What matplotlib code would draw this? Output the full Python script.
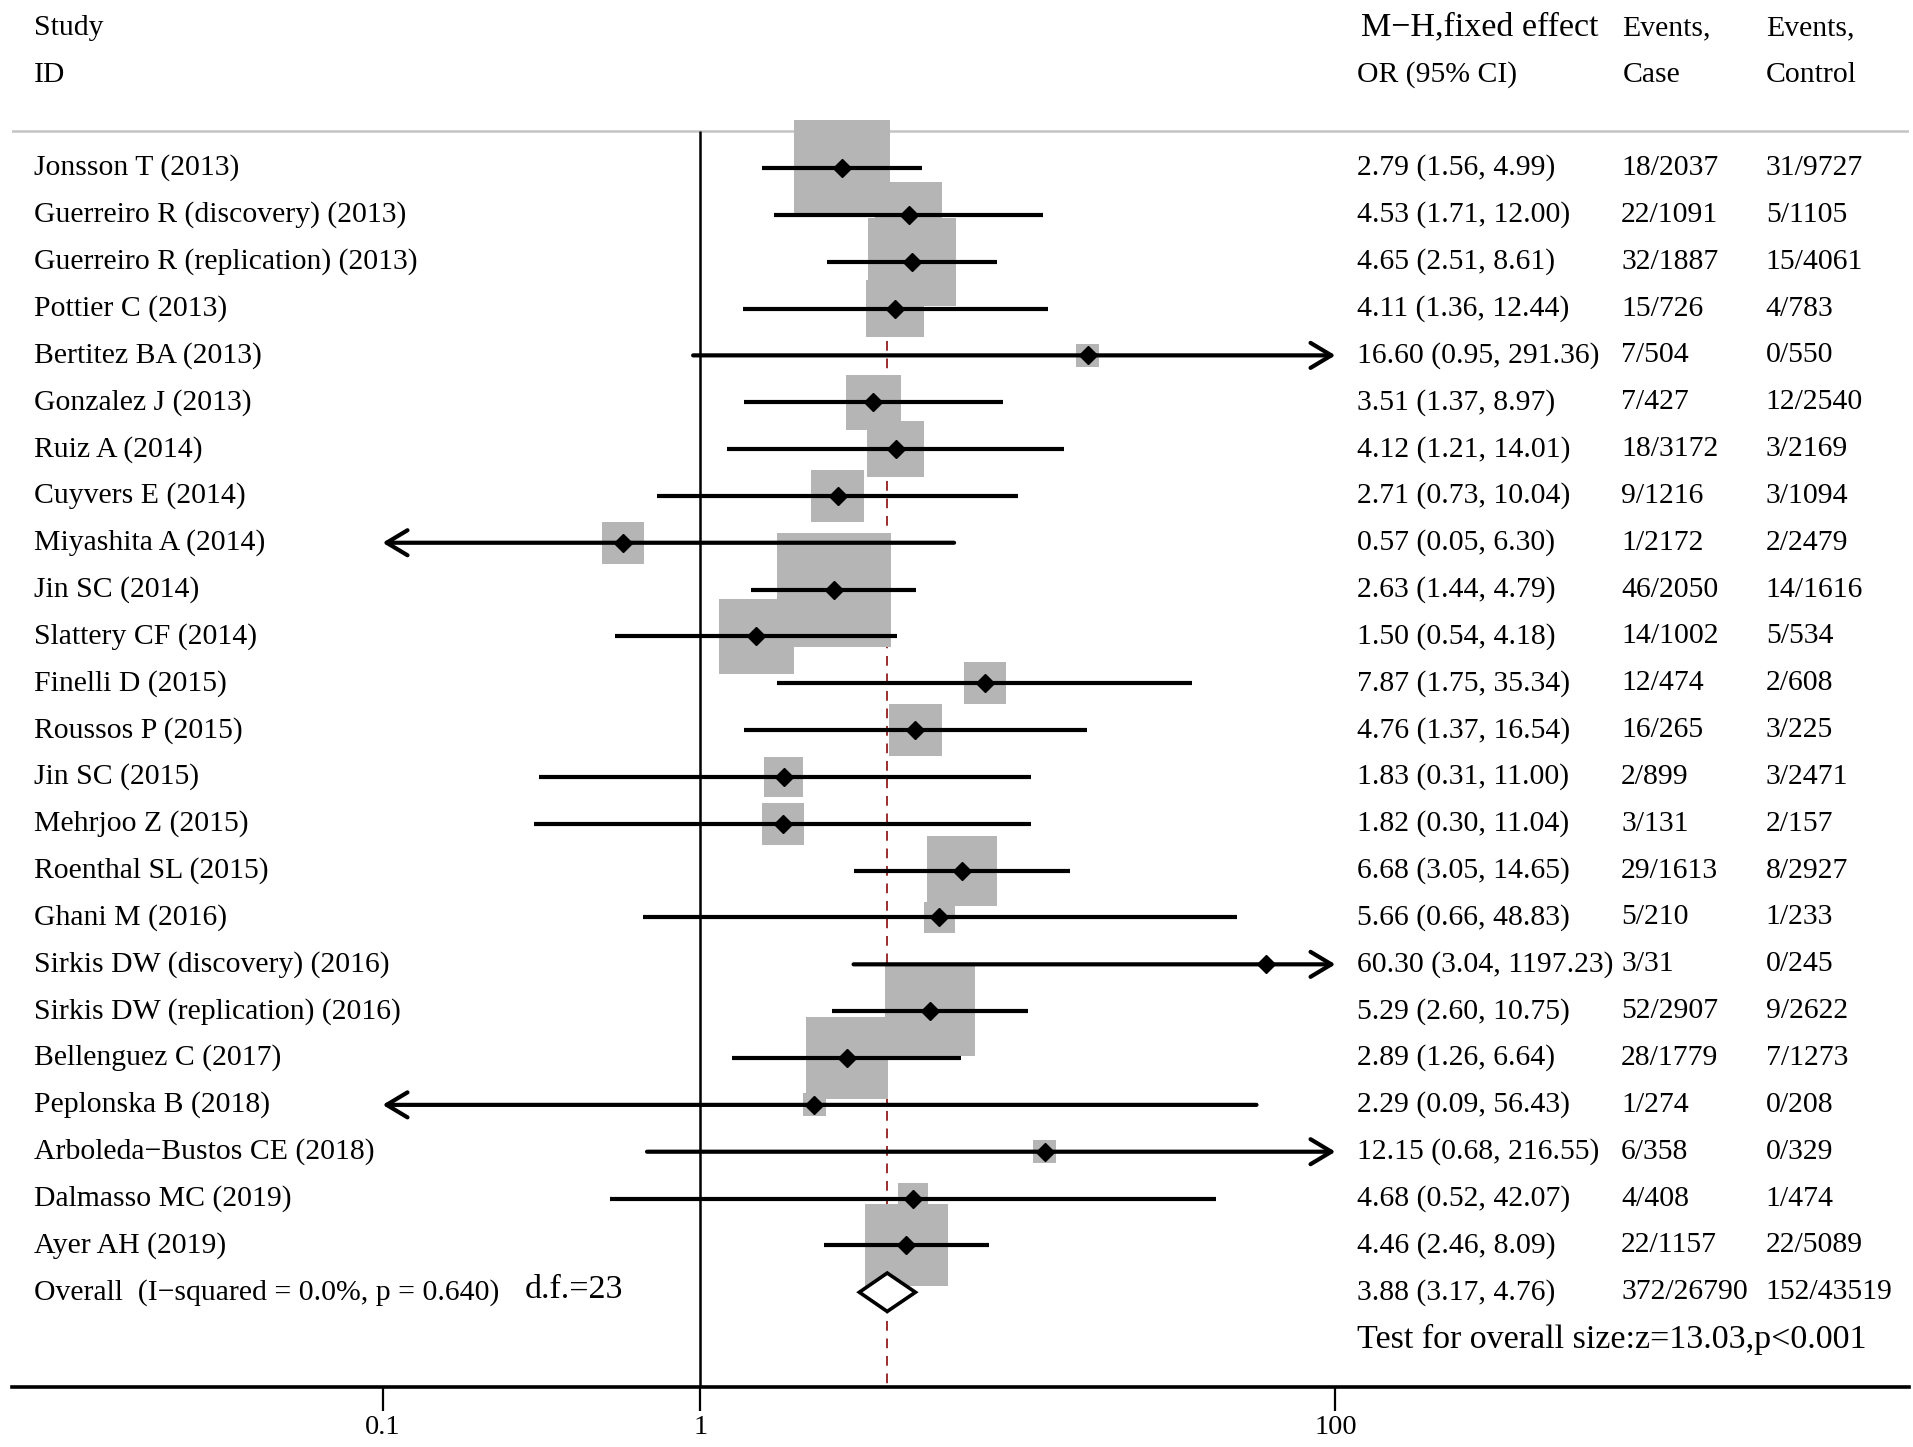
import matplotlib
matplotlib.use('Agg')
import matplotlib.pyplot as plt
from matplotlib.patches import Polygon

plt.rcParams['font.family'] = ['Liberation Serif', 'DejaVu Serif']

studies = ['Jonsson T (2013)', 'Guerreiro R (discovery) (2013)', 'Guerreiro R (replication) (2013)',
           'Pottier C (2013)', 'Bertitez BA (2013)', 'Gonzalez J (2013)', 'Ruiz A (2014)',
           'Cuyvers E (2014)', 'Miyashita A (2014)', 'Jin SC (2014)', 'Slattery CF (2014)',
           'Finelli D (2015)', 'Roussos P (2015)', 'Jin SC (2015)', 'Mehrjoo Z (2015)',
           'Roenthal SL (2015)', 'Ghani M (2016)', 'Sirkis DW (discovery) (2016)',
           'Sirkis DW (replication) (2016)', 'Bellenguez C (2017)', 'Peplonska B (2018)',
           'Arboleda\u2212Bustos CE (2018)', 'Dalmasso MC (2019)', 'Ayer AH (2019)']
odds = [2.79, 4.53, 4.65, 4.11, 16.60, 3.51, 4.12, 2.71, 0.57, 2.63, 1.50, 7.87,
        4.76, 1.83, 1.82, 6.68, 5.66, 60.30, 5.29, 2.89, 2.29, 12.15, 4.68, 4.46]
ci_low = [1.56, 1.71, 2.51, 1.36, 0.95, 1.37, 1.21, 0.73, 0.05, 1.44, 0.54, 1.75,
          1.37, 0.31, 0.30, 3.05, 0.66, 3.04, 2.60, 1.26, 0.09, 0.68, 0.52, 2.46]
ci_high = [4.99, 12.00, 8.61, 12.44, 291.36, 8.97, 14.01, 10.04, 6.30, 4.79, 4.18, 35.34,
           16.54, 11.00, 11.04, 14.65, 48.83, 1197.23, 10.75, 6.64, 56.43, 216.55, 42.07, 8.09]
# weights (%)
weights = [9.97, 4.78, 8.50, 3.62, 0.59, 3.32, 3.47, 3.03, 1.90, 14.18, 6.10, 1.90,
           3.03, 1.68, 1.90, 5.33, 1.02, 0.03, 8.74, 7.36, 0.59, 0.59, 1.02, 7.36]
events_case = ['18/2037', '22/1091', '32/1887', '15/726', '7/504', '7/427', '18/3172',
               '9/1216', '1/2172', '46/2050', '14/1002', '12/474', '16/265', '2/899',
               '3/131', '29/1613', '5/210', '3/31', '52/2907', '28/1779', '1/274',
               '6/358', '4/408', '22/1157']
events_ctrl = ['31/9727', '5/1105', '15/4061', '4/783', '0/550', '12/2540', '3/2169',
               '3/1094', '2/2479', '14/1616', '5/534', '2/608', '3/225', '3/2471',
               '2/157', '8/2927', '1/233', '0/245', '9/2622', '7/1273', '0/208',
               '0/329', '1/474', '22/5089']
overall = [3.88, 3.17, 4.76]
overall_case = '372/26790'
overall_ctrl = '152/43519'
xticks = [0.1, 1, 100]
xticklabels = ['0.1', '1', '100']

# layout: reference measured at 1560 x 1180
W, H = 1560.0, 1180.0
x_one, decade = 571.0, 259.0
row0, step = 137.0, 38.2


def disp_to_log(px):
    return 10 ** ((px - x_one) / decade)


def col(px):
    return (px - 10) / 1547.0


def row_of(py):
    return (py - row0) / step


fig = plt.figure(figsize=(19.13, 14.47), dpi=100)
ax = fig.add_axes([10 / W, 1 - 1131 / H, 1547 / W, 1131 / H])
ax.set_xscale('log')
ax.set_xlim(disp_to_log(10), disp_to_log(1557))
ax.set_ylim(row_of(1131), row_of(0))
for s in ['top', 'left', 'right']:
    ax.spines[s].set_visible(False)
ax.spines['bottom'].set_linewidth(2.6)
ax.set_yticks([])
ax.set_xticks(xticks)
ax.set_xticklabels(xticklabels)
ax.minorticks_off()
ax.tick_params(axis='x', direction='out', length=17, width=1.6, labelsize=20.5, pad=3)

n = len(studies)
rows = list(range(n))
y_overall = n
y_head = row_of(107)
y_bottom = row_of(1131)

ax.axhline(y_head, color='#c4c4c4', lw=1.8, zorder=1)
ax.vlines(1, y_head, y_bottom, color='black', lw=1.8, zorder=2.5)
ax.vlines(overall[0], y_head, y_bottom, color='#9b2d2d', lw=1.4,
          linestyles=(0, (5, 4)), zorder=1)

ax.scatter(odds, rows, s=[475 * w for w in weights], marker='s', color='#b5b5b5',
           linewidths=0, zorder=2)

lo_clip, hi_clip = xticks[0], xticks[-1]
arrow_kw = dict(arrowstyle='->,head_length=0.75,head_width=0.45', lw=3, color='black',
                shrinkA=0, shrinkB=0, mutation_scale=20)
for i in rows:
    lo, hi = ci_low[i], ci_high[i]
    if lo < lo_clip:
        ax.annotate('', xy=(lo_clip, i), xytext=(min(hi, hi_clip), i),
                    arrowprops=arrow_kw, zorder=3)
    elif hi > hi_clip:
        ax.annotate('', xy=(hi_clip, i), xytext=(lo, i), arrowprops=arrow_kw, zorder=3)
    else:
        ax.hlines(i, lo, hi, color='black', lw=3, zorder=3)
ax.plot(odds, rows, 'D', color='black', ms=9, zorder=4)

h = 0.41
diamond = Polygon([(overall[1], y_overall), (overall[0], y_overall - h),
                   (overall[2], y_overall), (overall[0], y_overall + h)],
                  closed=True, facecolor='white', edgecolor='black', lw=2.6, zorder=5)
ax.add_patch(diamond)

tr = matplotlib.transforms.blended_transform_factory(ax.transAxes, ax.transData)
fs = 21.4
big = 24.5

# header
ax.text(col(28), row_of(23), 'Study', transform=tr, fontsize=fs, va='center')
ax.text(col(28), row_of(61), 'ID', transform=tr, fontsize=fs, va='center')
ax.text(col(1110), row_of(22), 'M\u2212H,fixed effect', transform=tr, fontsize=big, va='center')
ax.text(col(1107), row_of(61), 'OR (95% CI)', transform=tr, fontsize=fs, va='center')
ax.text(col(1323), row_of(23), 'Events,', transform=tr, fontsize=fs, va='center')
ax.text(col(1323), row_of(61), 'Case', transform=tr, fontsize=fs, va='center')
ax.text(col(1440), row_of(23), 'Events,', transform=tr, fontsize=fs, va='center')
ax.text(col(1440), row_of(61), 'Control', transform=tr, fontsize=fs, va='center')

for i in rows:
    ax.text(col(28), i, studies[i], transform=tr, fontsize=fs, va='center')
    ax.text(col(1107), i, f'{odds[i]:.2f} ({ci_low[i]:.2f}, {ci_high[i]:.2f})',
            transform=tr, fontsize=fs, va='center')
    ax.text(col(1322), i, events_case[i], transform=tr, fontsize=fs, va='center')
    ax.text(col(1440), i, events_ctrl[i], transform=tr, fontsize=fs, va='center')

ax.text(col(28), y_overall, 'Overall  (I\u2212squared = 0.0%, p = 0.640)', transform=tr,
        fontsize=fs, va='center')
ax.text(col(428), y_overall - 0.05, 'd.f.=23', transform=tr, fontsize=big, va='center')
ax.text(col(1107), y_overall,
        f'{overall[0]:.2f} ({overall[1]:.2f}, {overall[2]:.2f})',
        transform=tr, fontsize=fs, va='center')
ax.text(col(1322), y_overall, overall_case, transform=tr, fontsize=fs, va='center')
ax.text(col(1440), y_overall, overall_ctrl, transform=tr, fontsize=fs, va='center')
ax.text(col(1107), y_overall + 1, 'Test for overall size:z=13.03,p<0.001', transform=tr,
        fontsize=big, va='center')

fig.savefig('out.png', dpi=100)
